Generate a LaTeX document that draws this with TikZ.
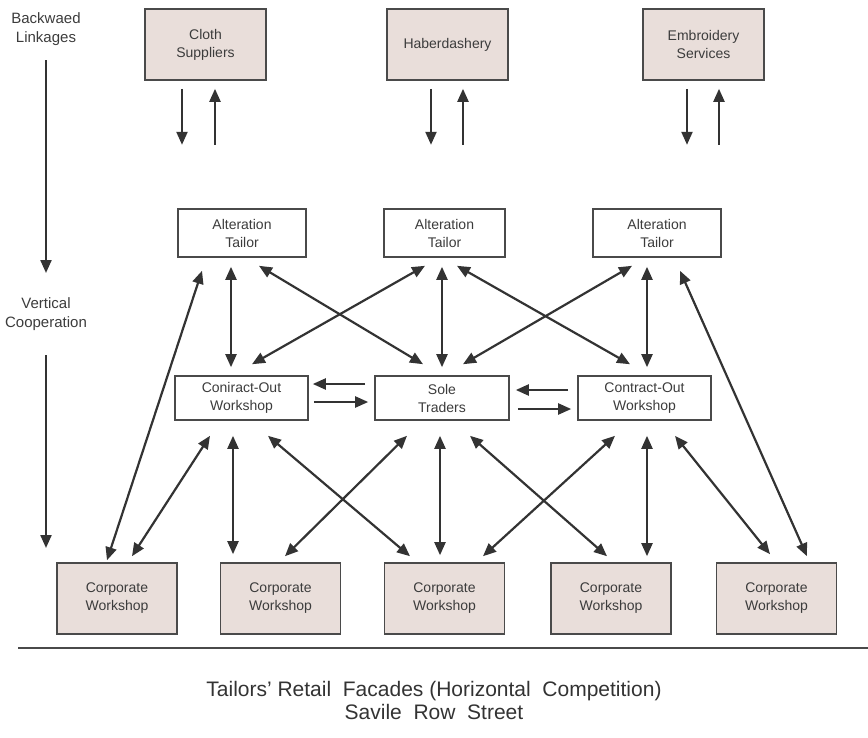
\documentclass[tikz,border=0pt]{standalone}
\usepackage{fontspec}
\setmainfont{Liberation Sans}
\usetikzlibrary{arrows.meta}
\definecolor{boxfill}{HTML}{E9DEDA}
\definecolor{edge}{HTML}{4A4A4A}
\definecolor{ink}{HTML}{333333}
\definecolor{txt}{HTML}{3C3C3C}
\begin{document}
\begin{tikzpicture}[x=1pt,y=-1pt,
  every node/.style={font=\fontsize{14}{18}\selectfont, text=txt, align=center, inner sep=0pt},
  unitbox/.style={draw=edge, line width=1.6pt, minimum height=#1},
  supplier/.style={unitbox=71pt, fill=boxfill, minimum width=121pt},
  corporate/.style={unitbox=71pt, fill=boxfill, minimum width=120pt},
  trader/.style={unitbox=44pt, fill=white},
  tailor/.style={unitbox=48pt, fill=white},
  sidelabel/.style={font=\fontsize{15}{19}\selectfont},
  link/.style={draw=ink, line width=2.2pt, -{Triangle[length=13pt,width=11pt]}},
  bilink/.style={draw=ink, line width=2.2pt, {Triangle[length=13pt,width=11pt]}-{Triangle[length=13pt,width=11pt]}}
]
\useasboundingbox (0,0) rectangle (868,737);

% side axis labels
\node[sidelabel] (back) at (46,29) {Backwaed\\Linkages};
\node[sidelabel] (vert) at (46,314) {Vertical\\Cooperation};
\coordinate (axisend) at (46,548);
\draw[link] ([shift={(0,31)}]back.center) -- ([shift={(0,-41)}]vert.center);
\draw[link] ([shift={(0,41)}]vert.center) -- (axisend);

% suppliers
\node[supplier] (cloth) at (205.5,44.5) {Cloth\\Suppliers};
\node[supplier] (haber) at (447.5,44.5) {Haberdashery};
\node[supplier] (embro) at (703.5,44.5) {Embroidery\\Services};

\foreach \s/\dn/\up in {cloth/-23.5/9.5, haber/-16.5/15.5, embro/-16.5/15.5}{
  \draw[link] ([shift={(\dn,8)}]\s.south) -- ([shift={(\dn,64)}]\s.south);
  \draw[link] ([shift={(\up,64)}]\s.south) -- ([shift={(\up,8)}]\s.south);
}

% alteration tailors
\node[tailor, minimum width=128pt] (alt1) at (242,233) {Alteration\\Tailor};
\node[tailor, minimum width=121pt] (alt2) at (444.5,233) {Alteration\\Tailor};
\node[tailor, minimum width=128pt] (alt3) at (657,233) {Alteration\\Tailor};

% middle tier
\node[trader, minimum width=133pt] (con1) at (241.5,398) {Coniract-Out\\Workshop};
\node[trader, minimum width=134pt] (sole) at (442,398) {Sole\\Traders};
\node[trader, minimum width=133pt] (con2) at (644.5,398) {Contract-Out\\Workshop};

% corporate workshops
\node[corporate] (corp1) at (117,598.5) {Corporate\\Workshop};
\node[corporate] (corp2) at (280.5,598.5) {Corporate\\Workshop};
\node[corporate] (corp3) at (444.5,598.5) {Corporate\\Workshop};
\node[corporate] (corp4) at (611,598.5) {Corporate\\Workshop};
\node[corporate] (corp5) at (776.5,598.5) {Corporate\\Workshop};

% tailors <-> middle tier
\draw[bilink] ([shift={(-11,9)}]alt1.south) -- ([shift={(-10.5,-8)}]con1.north);
\draw[bilink] ([shift={(17,8)}]alt1.south) -- ([shift={(-19,-11)}]sole.north);
\draw[bilink] ([shift={(-19.5,8)}]alt2.south) -- ([shift={(10.5,-11)}]con1.north);
\draw[bilink] ([shift={(-2.5,9)}]alt2.south) -- ([shift={(0,-8)}]sole.north);
\draw[bilink] ([shift={(12.5,8)}]alt2.south) -- ([shift={(-14.5,-11)}]con2.north);
\draw[bilink] ([shift={(-25,8)}]alt3.south) -- ([shift={(21,-11)}]sole.north);
\draw[bilink] ([shift={(-10,9)}]alt3.south) -- ([shift={(2.5,-8)}]con2.north);

% tailors <-> outer corporate workshops
\draw[bilink] ([shift={(-40,13)}]alt1.south) -- ([shift={(-10,-2)}]corp1.north);
\draw[bilink] ([shift={(23,13)}]alt3.south) -- ([shift={(30.5,-6)}]corp5.north);

% exchanges within the middle tier
\draw[link] ([shift={(-9,-14)}]sole.west) -- ([shift={(4,-14)}]con1.east);
\draw[link] ([shift={(5,4)}]con1.east) -- ([shift={(-6,4)}]sole.west);
\draw[link] ([shift={(-9,-8)}]con2.west) -- ([shift={(6,-8)}]sole.east);
\draw[link] ([shift={(8,11)}]sole.east) -- ([shift={(-6,11)}]con2.west);

% middle tier <-> corporate workshops
\draw[bilink] ([shift={(-31.5,15)}]con1.south) -- ([shift={(15,-6)}]corp1.north);
\draw[bilink] ([shift={(-8.5,15)}]con1.south) -- ([shift={(-47.5,-8)}]corp2.north);
\draw[bilink] ([shift={(26.5,15)}]con1.south) -- ([shift={(-34.5,-6)}]corp3.north);
\draw[bilink] ([shift={(-35,15)}]sole.south) -- ([shift={(4.5,-6)}]corp2.north);
\draw[bilink] ([shift={(-2,15)}]sole.south) -- ([shift={(-4.5,-7)}]corp3.north);
\draw[bilink] ([shift={(28,15)}]sole.south) -- ([shift={(-4,-6)}]corp4.north);
\draw[bilink] ([shift={(-29.5,15)}]con2.south) -- ([shift={(38.5,-6)}]corp3.north);
\draw[bilink] ([shift={(2.5,15)}]con2.south) -- ([shift={(36,-6)}]corp4.north);
\draw[bilink] ([shift={(30.5,15)}]con2.south) -- ([shift={(-6.5,-8)}]corp5.north);

% street frontage
\draw[edge, line width=1.3pt] (18,648) -- (868,648);
\node[font=\fontsize{21}{23}\selectfont, text=ink] (street) at (434,700)
  {Tailors' Retail\ \ Facades (Horizontal\ \ Competition)\\Savile\ \ Row\ \ Street};
\end{tikzpicture}
\end{document}
